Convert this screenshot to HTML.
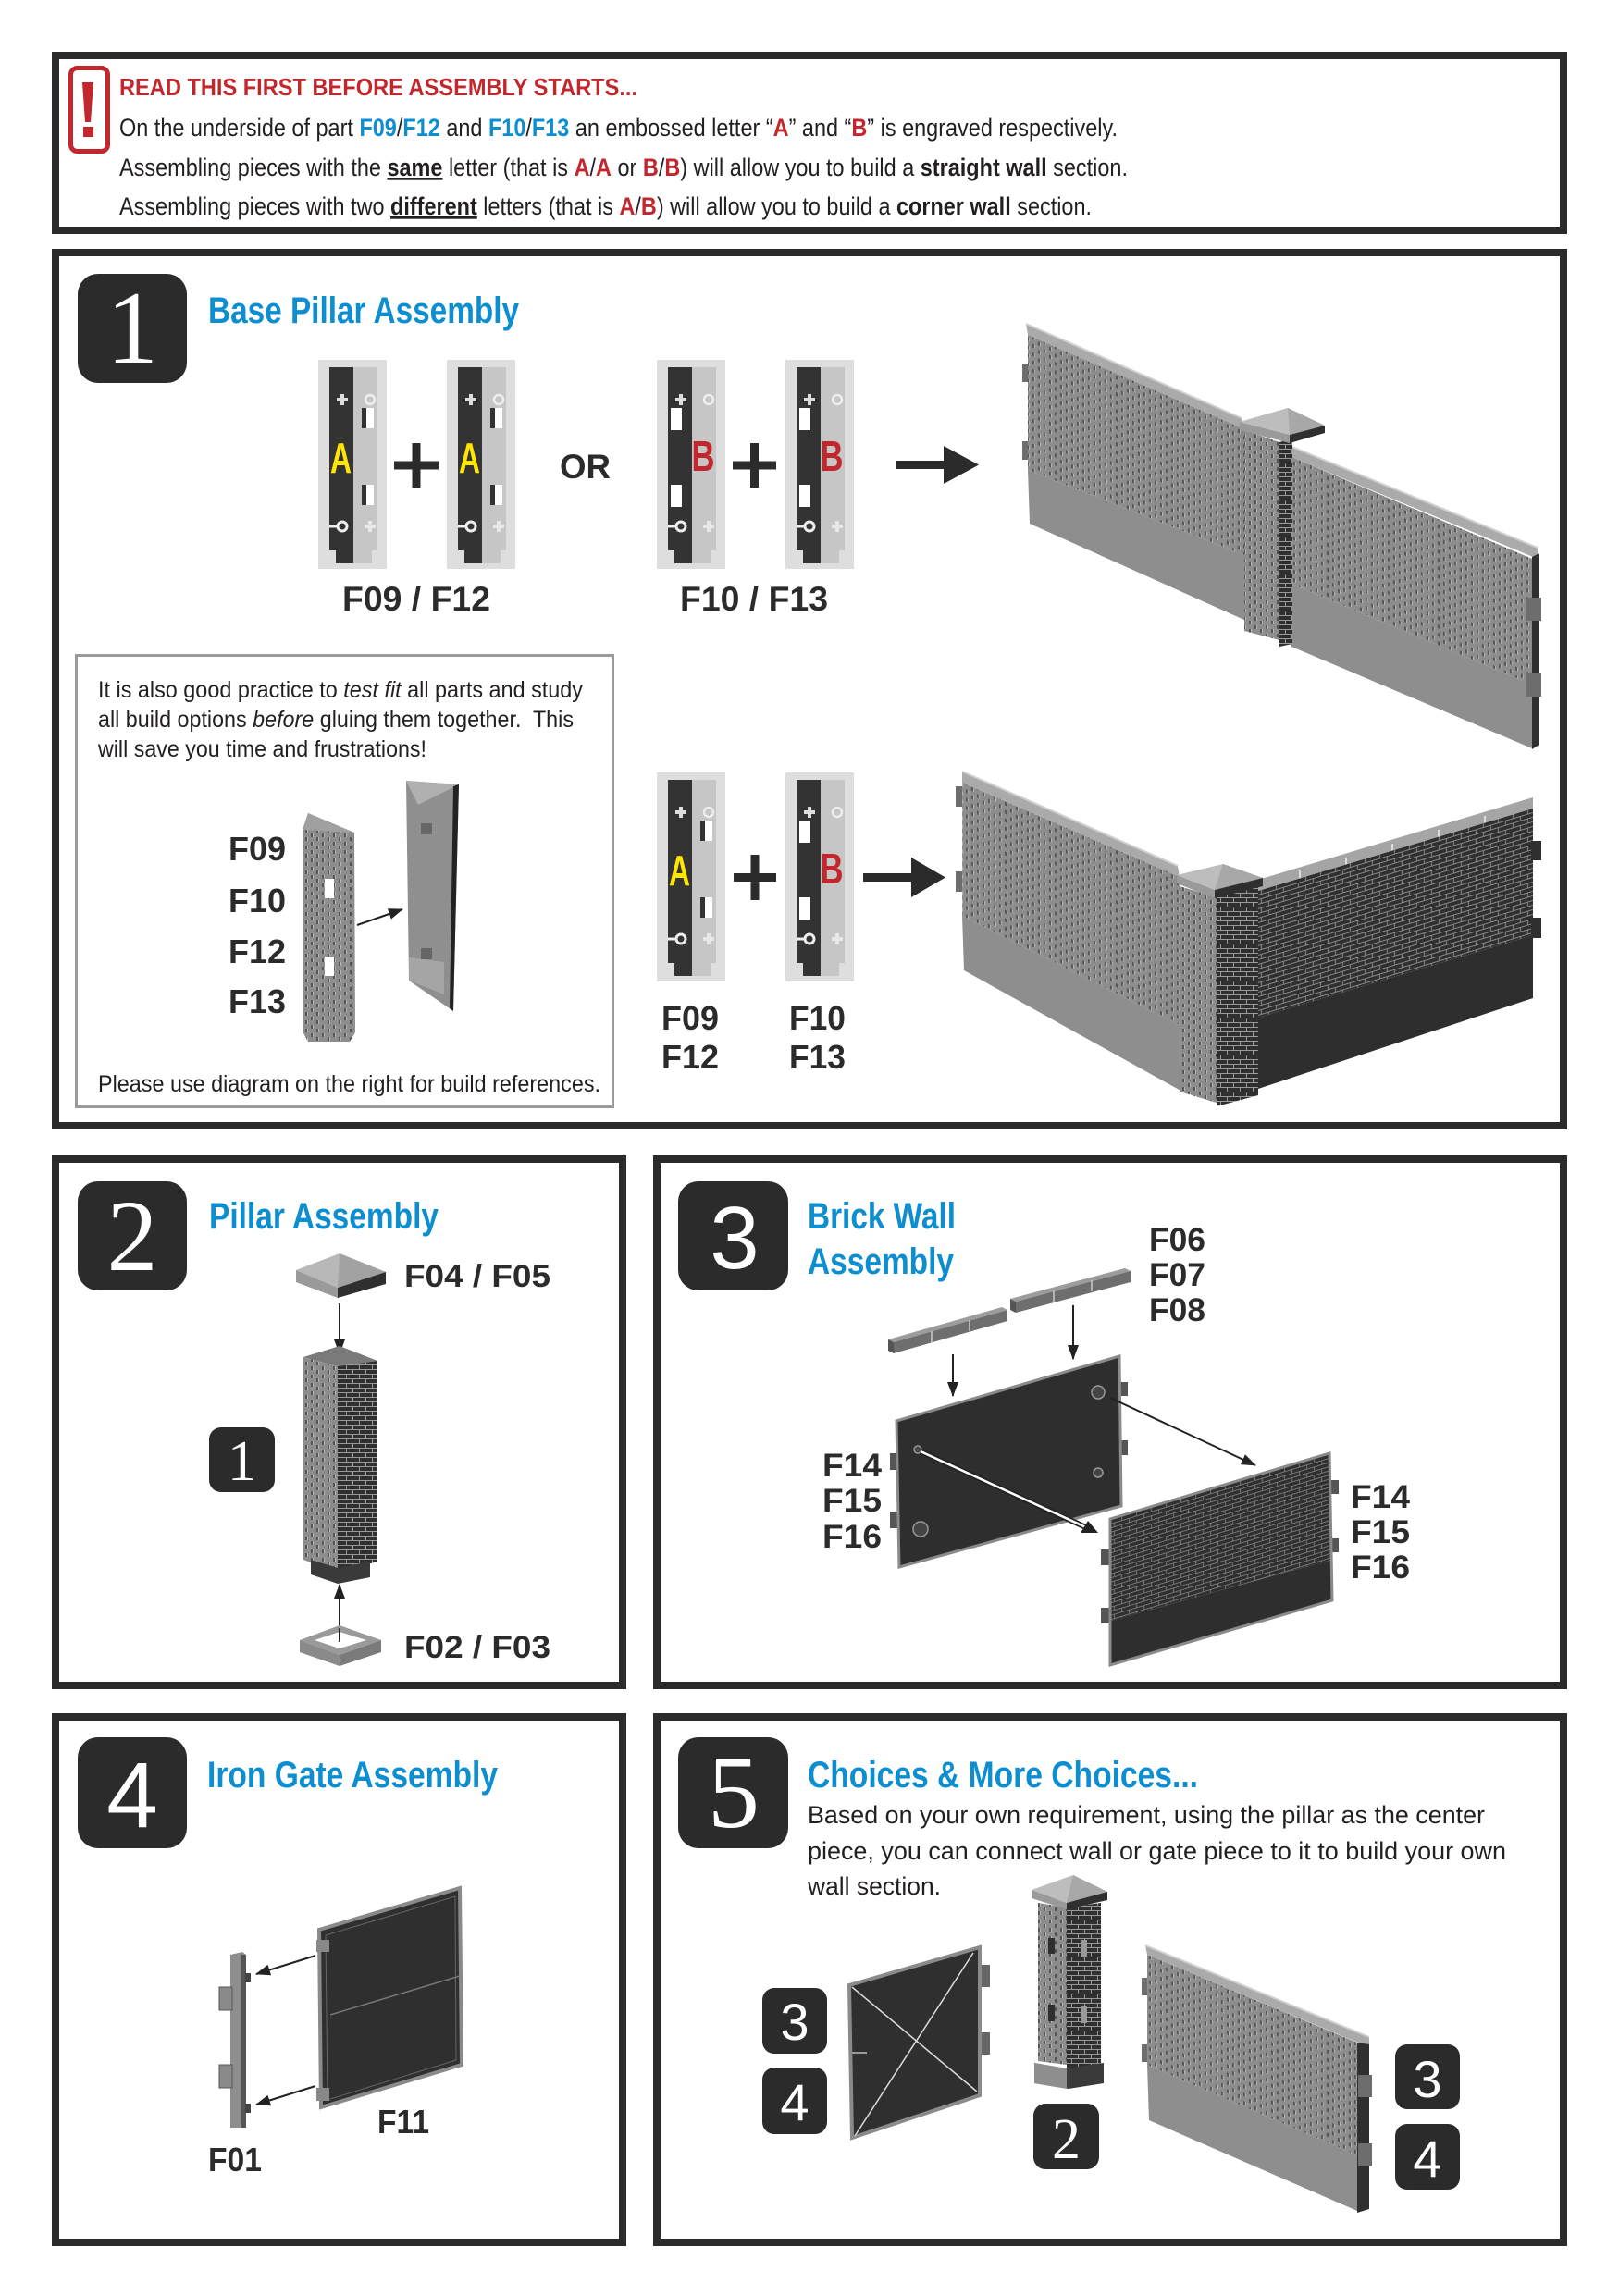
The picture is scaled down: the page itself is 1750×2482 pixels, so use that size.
<!DOCTYPE html>
<html><head><meta charset="utf-8"><style>
html,body{margin:0;padding:0;background:#fff;}
svg{display:block;}
text{font-family:"Liberation Sans Narrow","Liberation Sans",sans-serif;}
.ser{font-family:"Liberation Serif",serif;}
.san{font-family:"Liberation Sans",sans-serif;}
</style></head><body>
<svg xmlns="http://www.w3.org/2000/svg" width="1750" height="2482" viewBox="0 0 1750 2482">
<defs>
<pattern id="bL" width="12" height="9" patternUnits="userSpaceOnUse" patternTransform="skewY(23.6)">
<rect width="12" height="9" fill="#8d8d8d"/><rect x="0" y="1" width="2" height="4" fill="#555"/><rect x="2" y="1" width="1" height="4" fill="#b8b8b8"/><rect x="6" y="5" width="2" height="4" fill="#555"/><rect x="8" y="5" width="1" height="4" fill="#b8b8b8"/>
</pattern>
<pattern id="bL2" width="12" height="9" patternUnits="userSpaceOnUse">
<rect width="12" height="9" fill="#8d8d8d"/><rect x="0" y="1" width="2" height="4" fill="#555"/><rect x="2" y="1" width="1" height="4" fill="#b8b8b8"/><rect x="6" y="5" width="2" height="4" fill="#555"/><rect x="8" y="5" width="1" height="4" fill="#b8b8b8"/>
</pattern>
<pattern id="bD" width="16" height="10" patternUnits="userSpaceOnUse" patternTransform="skewY(-16.7)">
<rect width="16" height="10" fill="#2f2f2f"/><rect x="0" y="0" width="16" height="1" fill="#8a8a8a"/><rect x="0" y="5" width="16" height="1" fill="#8a8a8a"/><rect x="3" y="0" width="1" height="5" fill="#8a8a8a"/><rect x="11" y="5" width="1" height="5" fill="#8a8a8a"/>
</pattern>
<pattern id="bD2" width="14" height="10" patternUnits="userSpaceOnUse">
<rect width="14" height="10" fill="#2f2f2f"/><rect x="0" y="0" width="14" height="1" fill="#999"/><rect x="0" y="5" width="14" height="1" fill="#999"/><rect x="3" y="0" width="1" height="5" fill="#999"/><rect x="10" y="5" width="1" height="5" fill="#999"/>
</pattern>
<pattern id="bD3" width="16" height="9" patternUnits="userSpaceOnUse" patternTransform="skewY(-16.7)">
<rect width="16" height="9" fill="#2f2f2f"/><rect x="0" y="0" width="16" height="1" fill="#777"/><rect x="0" y="4.5" width="16" height="1" fill="#777"/><rect x="4" y="0" width="1" height="4.5" fill="#777"/><rect x="12" y="4.5" width="1" height="4.5" fill="#777"/>
</pattern>
<marker id="ah" viewBox="0 0 16 12" refX="15" refY="6" markerWidth="16" markerHeight="12" markerUnits="userSpaceOnUse" orient="auto"><path d="M0,0 L16,6 L0,12 z" fill="#222"/></marker>
<g id="pA">
<rect x="0" y="0" width="74" height="226" fill="#dedede"/>
<rect x="12" y="8" width="26" height="198" fill="#333"/>
<rect x="38" y="8" width="26" height="198" fill="#c6c6c6"/>
<rect x="19" y="206" width="19" height="14" fill="#333"/>
<rect x="38" y="206" width="20" height="14" fill="#c6c6c6"/>
<path d="M20,43h12M26,37v12" stroke="#ddd" stroke-width="4"/>
<circle cx="56" cy="43" r="5" fill="none" stroke="#eee" stroke-width="2.5"/>
<rect x="47" y="52" width="5" height="22" fill="#333"/><rect x="52" y="52" width="8" height="22" fill="#fff"/>
<rect x="47" y="135" width="5" height="22" fill="#333"/><rect x="52" y="135" width="8" height="22" fill="#fff"/>
<circle cx="26" cy="180" r="5" fill="none" stroke="#eee" stroke-width="3"/><line x1="12" y1="180" x2="21" y2="180" stroke="#eee" stroke-width="3"/>
<path d="M50,180h12M56,174v12" stroke="#e8e8e8" stroke-width="4"/>
<text x="24.5" y="122" text-anchor="middle" font-size="46" font-weight="bold" fill="#ffe600" textLength="23" lengthAdjust="spacingAndGlyphs">A</text>
</g>
<g id="pB">
<rect x="0" y="0" width="74" height="226" fill="#dedede"/>
<rect x="12" y="8" width="26" height="198" fill="#333"/>
<rect x="38" y="8" width="26" height="198" fill="#c6c6c6"/>
<rect x="19" y="206" width="19" height="14" fill="#333"/>
<rect x="38" y="206" width="20" height="14" fill="#c6c6c6"/>
<path d="M20,43h12M26,37v12" stroke="#ddd" stroke-width="4"/>
<circle cx="56" cy="43" r="5" fill="none" stroke="#eee" stroke-width="2.5"/>
<rect x="15" y="52" width="12" height="24" fill="#fff"/>
<rect x="15" y="135" width="12" height="24" fill="#fff"/>
<circle cx="26" cy="180" r="5" fill="none" stroke="#eee" stroke-width="3"/><line x1="12" y1="180" x2="21" y2="180" stroke="#eee" stroke-width="3"/>
<path d="M50,180h12M56,174v12" stroke="#e8e8e8" stroke-width="4"/>
<text x="50" y="120" text-anchor="middle" font-size="46" font-weight="bold" fill="#c1272d" textLength="25" lengthAdjust="spacingAndGlyphs">B</text>
</g>
</defs>

<!-- BOX 0 -->
<rect x="60" y="60" width="1630" height="189" fill="#fff" stroke="#2b2b2b" stroke-width="8"/>
<rect x="76.5" y="73.5" width="40" height="90" rx="7" fill="#fff" stroke="#c1272d" stroke-width="5"/>
<polygon points="89,89 101,89 98,132 92,132" fill="#c1272d"/>
<rect x="90" y="137" width="11" height="11" fill="#c1272d"/>
<text x="129" y="103" font-size="26" font-weight="bold" fill="#c1272d" textLength="560" lengthAdjust="spacingAndGlyphs">READ THIS FIRST BEFORE ASSEMBLY STARTS...</text>
<text x="129" y="147" font-size="27" fill="#231f20" textLength="1079" lengthAdjust="spacingAndGlyphs">On the underside of part <tspan fill="#0d8ed0" font-weight="bold">F09</tspan>/<tspan fill="#0d8ed0" font-weight="bold">F12</tspan> and <tspan fill="#0d8ed0" font-weight="bold">F10</tspan>/<tspan fill="#0d8ed0" font-weight="bold">F13</tspan> an embossed letter “<tspan fill="#c1272d" font-weight="bold">A</tspan>” and “<tspan fill="#c1272d" font-weight="bold">B</tspan>” is engraved respectively.</text>
<text x="129" y="190" font-size="27" fill="#231f20" textLength="1090" lengthAdjust="spacingAndGlyphs">Assembling pieces with the <tspan font-weight="bold" text-decoration="underline">same</tspan> letter (that is <tspan fill="#c1272d" font-weight="bold">A</tspan>/<tspan fill="#c1272d" font-weight="bold">A</tspan> or <tspan fill="#c1272d" font-weight="bold">B</tspan>/<tspan fill="#c1272d" font-weight="bold">B</tspan>) will allow you to build a <tspan font-weight="bold">straight wall</tspan> section.</text>
<text x="129" y="232" font-size="27" fill="#231f20" textLength="1051" lengthAdjust="spacingAndGlyphs">Assembling pieces with two <tspan font-weight="bold" text-decoration="underline">different</tspan> letters (that is <tspan fill="#c1272d" font-weight="bold">A</tspan>/<tspan fill="#c1272d" font-weight="bold">B</tspan>) will allow you to build a <tspan font-weight="bold">corner wall</tspan> section.</text>

<!-- BOX 1 -->
<rect x="60" y="273" width="1630" height="944" fill="#fff" stroke="#2b2b2b" stroke-width="8"/>
<rect x="84" y="296" width="118" height="118" rx="22" fill="#2b2b2b"/>
<text class="ser" x="143" y="392" text-anchor="middle" font-size="112" fill="#fff">1</text>
<text x="225" y="349" font-size="40" font-weight="bold" fill="#0d8ed0" textLength="336" lengthAdjust="spacingAndGlyphs">Base Pillar Assembly</text>

<use href="#pA" x="344" y="389"/>
<use href="#pA" x="483" y="389"/>
<use href="#pB" x="710" y="389"/>
<use href="#pB" x="849" y="389"/>
<path d="M426,503h48M450,479v48" stroke="#2b2b2b" stroke-width="9"/>
<path d="M792,503h47M815.5,479v48" stroke="#2b2b2b" stroke-width="9"/>
<text x="605" y="517" font-size="37" font-weight="bold" fill="#2b2b2b" textLength="55" lengthAdjust="spacingAndGlyphs">OR</text>
<rect x="968" y="498" width="57" height="9" fill="#2b2b2b"/>
<polygon points="1020,482 1058,502.5 1020,523" fill="#2b2b2b"/>
<text x="370" y="660" font-size="37" font-weight="bold" fill="#2b2b2b" textLength="160" lengthAdjust="spacingAndGlyphs">F09 / F12</text>
<text x="735" y="660" font-size="37" font-weight="bold" fill="#2b2b2b" textLength="160" lengthAdjust="spacingAndGlyphs">F10 / F13</text>

<!-- straight wall -->
<rect x="1105" y="393" width="7" height="20" fill="#6d6d6d"/>
<rect x="1105" y="477" width="7" height="20" fill="#6d6d6d"/>
<polygon points="1109,350 1342,452 1345,464 1111,362" fill="#aaaaaa"/>
<line x1="1109" y1="350" x2="1342" y2="452" stroke="#d0d0d0" stroke-width="2"/>
<polygon points="1111,362 1345,464 1345,600 1111,508" fill="url(#bL)"/>
<polygon points="1111,508 1345,600 1347,671 1113,566" fill="#8e8e8e"/>
<polygon points="1394,482 1662,592 1662,604 1396,494" fill="#aaaaaa"/>
<line x1="1394" y1="482" x2="1662" y2="592" stroke="#d0d0d0" stroke-width="2"/>
<polygon points="1396,494 1656,604 1656,740 1396,631" fill="url(#bL)"/>
<polygon points="1396,631 1656,740 1656,809 1396,699" fill="#8e8e8e"/>
<polygon points="1656,602 1664,598 1664,805 1656,810" fill="#2f2f2f"/>
<rect x="1649" y="646" width="17" height="25" fill="#6d6d6d"/>
<rect x="1649" y="728" width="17" height="25" fill="#6d6d6d"/>
<polygon points="1345,465 1383,478 1383,692 1345,682" fill="url(#bL2)"/>
<polygon points="1383,478 1397,474 1397,696 1383,699" fill="url(#bD2)"/>
<polygon points="1340,456 1392,441 1432,460 1394,470" fill="#bdbdbd"/>
<polygon points="1392,441 1432,460 1394,470" fill="#a8a8a8"/>
<polygon points="1340,456 1394,470 1394,479 1340,465" fill="#9a9a9a"/>
<polygon points="1394,470 1432,460 1432,468 1394,479" fill="#2f2f2f"/>

<!-- corner wall -->
<rect x="1033" y="850" width="8" height="22" fill="#6d6d6d"/>
<rect x="1033" y="942" width="8" height="22" fill="#6d6d6d"/>
<polygon points="1040,834 1273,936 1275,948 1040,846" fill="#aaaaaa"/>
<line x1="1040" y1="834" x2="1273" y2="936" stroke="#d0d0d0" stroke-width="2"/>
<polygon points="1040,846 1275,948 1275,1108 1040,990" fill="url(#bL)"/>
<polygon points="1040,990 1275,1108 1278,1180 1042,1049" fill="#8e8e8e"/>
<polygon points="1360,951 1657,862 1657,874 1360,963" fill="#a5a5a5"/>
<path d="M1405,951v-10M1455,937v-10M1505,922v-10M1555,907v-10M1605,892v-10" stroke="#ddd" stroke-width="2"/>
<polygon points="1360,963 1657,874 1657,1011 1360,1100" fill="url(#bD)"/>
<polygon points="1360,1100 1657,1011 1657,1079 1360,1177" fill="#2e2e2e"/>
<rect x="1655" y="909" width="11" height="21" fill="#2f2f2f"/>
<rect x="1655" y="992" width="11" height="22" fill="#2f2f2f"/>
<polygon points="1275,958 1315,970 1315,1192 1275,1180" fill="url(#bL2)"/>
<polygon points="1315,970 1360,958 1360,1184 1315,1196" fill="url(#bD2)"/>
<polygon points="1272,946 1322,934 1365,949 1313,962" fill="#bdbdbd"/>
<polygon points="1322,934 1365,949 1313,962" fill="#a8a8a8"/>
<polygon points="1272,946 1313,962 1313,971 1272,955" fill="#9a9a9a"/>
<polygon points="1313,962 1365,949 1365,958 1313,971" fill="#2f2f2f"/>

<!-- second row pieces -->
<use href="#pA" x="710" y="835"/>
<use href="#pB" x="849" y="835"/>
<path d="M793,948.5h46M816,924v49" stroke="#2b2b2b" stroke-width="9"/>
<rect x="933" y="944" width="55" height="9" fill="#2b2b2b"/>
<polygon points="985,927 1022,948.5 985,970" fill="#2b2b2b"/>
<text x="715" y="1113" font-size="36" font-weight="bold" fill="#2b2b2b" textLength="62" lengthAdjust="spacingAndGlyphs">F09</text>
<text x="715" y="1155" font-size="36" font-weight="bold" fill="#2b2b2b" textLength="62" lengthAdjust="spacingAndGlyphs">F12</text>
<text x="853" y="1113" font-size="36" font-weight="bold" fill="#2b2b2b" textLength="61" lengthAdjust="spacingAndGlyphs">F10</text>
<text x="853" y="1155" font-size="36" font-weight="bold" fill="#2b2b2b" textLength="61" lengthAdjust="spacingAndGlyphs">F13</text>

<!-- info box -->
<rect x="82.5" y="708.5" width="580" height="488" fill="#fff" stroke="#9a9a9a" stroke-width="3"/>
<text x="106" y="754" font-size="25" fill="#231f20" textLength="524" lengthAdjust="spacingAndGlyphs">It is also good practice to <tspan font-style="italic">test fit</tspan> all parts and study</text>
<text x="106" y="786" font-size="25" fill="#231f20" textLength="514" lengthAdjust="spacingAndGlyphs" xml:space="preserve">all build options <tspan font-style="italic">before</tspan> gluing them together.  This</text>
<text x="106" y="818" font-size="25" fill="#231f20" textLength="355" lengthAdjust="spacingAndGlyphs">will save you time and frustrations!</text>
<text x="106" y="1180" font-size="25" fill="#231f20" textLength="543" lengthAdjust="spacingAndGlyphs">Please use diagram on the right for build references.</text>
<text x="247" y="930" font-size="36" font-weight="bold" fill="#2b2b2b" textLength="62" lengthAdjust="spacingAndGlyphs">F09</text>
<text x="247" y="986" font-size="36" font-weight="bold" fill="#2b2b2b" textLength="62" lengthAdjust="spacingAndGlyphs">F10</text>
<text x="247" y="1041" font-size="36" font-weight="bold" fill="#2b2b2b" textLength="62" lengthAdjust="spacingAndGlyphs">F12</text>
<text x="247" y="1095" font-size="36" font-weight="bold" fill="#2b2b2b" textLength="62" lengthAdjust="spacingAndGlyphs">F13</text>
<polygon points="327,897 333,879 383,900 384,1116 378,1126 333,1126 327,1115" fill="url(#bL2)"/>
<polygon points="333,879 383,900 327,897" fill="#a0a0a0"/>
<rect x="351" y="950" width="10" height="21" fill="#fff"/>
<rect x="351" y="1034" width="10" height="21" fill="#fff"/>
<polygon points="439,844 496,848 490,1093 442,1060" fill="#8f8f8f"/>
<polygon points="439,844 496,848 452,870" fill="#b0b0b0"/>
<polygon points="490,850 496,848 490,1093 486,1090" fill="#222"/>
<polygon points="442,1035 480,1040 480,1075 442,1060" fill="#a5a5a5"/>
<rect x="455" y="890" width="12" height="12" fill="#666"/>
<rect x="455" y="1025" width="12" height="12" fill="#666"/>
<line x1="386" y1="1000" x2="435" y2="983" stroke="#222" stroke-width="2" marker-end="url(#ah)"/>

<!-- BOX 2 -->
<rect x="60" y="1253" width="613" height="569" fill="#fff" stroke="#2b2b2b" stroke-width="8"/>
<rect x="84" y="1277" width="118" height="118" rx="22" fill="#2b2b2b"/>
<text class="ser" x="143" y="1373" text-anchor="middle" font-size="110" fill="#fff">2</text>
<text x="226" y="1328" font-size="40" font-weight="bold" fill="#0d8ed0" textLength="248" lengthAdjust="spacingAndGlyphs">Pillar Assembly</text>
<polygon points="320,1373 367,1355 417,1375 365,1392" fill="#b8b8b8"/>
<polygon points="367,1355 417,1375 365,1392" fill="#a2a2a2"/>
<polygon points="320,1373 365,1392 365,1403 320,1386" fill="#9a9a9a"/>
<polygon points="365,1392 417,1375 417,1388 365,1403" fill="#2f2f2f"/>
<text x="437" y="1391" font-size="34" font-weight="bold" fill="#2b2b2b" textLength="158" lengthAdjust="spacingAndGlyphs">F04 / F05</text>
<line x1="367" y1="1409" x2="367" y2="1463" stroke="#222" stroke-width="2" marker-end="url(#ah)"/>
<polygon points="328,1467 367,1455 408,1471 365,1477" fill="#7a7a7a"/>
<polygon points="328,1467 365,1477 365,1700 328,1686" fill="url(#bL2)"/>
<polygon points="365,1477 408,1471 408,1688 365,1700" fill="url(#bD2)"/>
<polygon points="336,1686 365,1695 400,1688 400,1705 365,1712 336,1702" fill="#3a3a3a"/>
<rect x="226" y="1543" width="71" height="70" rx="13" fill="#2b2b2b"/>
<text class="ser" x="261.5" y="1600" text-anchor="middle" font-size="62" fill="#fff">1</text>
<line x1="367" y1="1775" x2="367" y2="1713" stroke="#222" stroke-width="2" marker-end="url(#ah)"/>
<polygon points="324,1773 367,1757 412,1773 367,1789" fill="#9a9a9a"/>
<polygon points="340,1773 367,1764 396,1773 367,1782" fill="#fff"/>
<polygon points="324,1773 367,1789 367,1801 324,1786" fill="#8a8a8a"/>
<polygon points="367,1789 412,1773 412,1786 367,1801" fill="#7a7a7a"/>
<line x1="367" y1="1775" x2="367" y2="1760" stroke="#222" stroke-width="2"/>
<text x="437" y="1792" font-size="34" font-weight="bold" fill="#2b2b2b" textLength="158" lengthAdjust="spacingAndGlyphs">F02 / F03</text>

<!-- BOX 3 -->
<rect x="710" y="1253" width="980" height="569" fill="#fff" stroke="#2b2b2b" stroke-width="8"/>
<rect x="733" y="1277" width="119" height="118" rx="22" fill="#2b2b2b"/>
<text class="san" x="794" y="1371" text-anchor="middle" font-size="96" fill="#fff">3</text>
<text x="873" y="1328" font-size="40" font-weight="bold" fill="#0d8ed0" textLength="160" lengthAdjust="spacingAndGlyphs">Brick Wall</text>
<text x="873" y="1377" font-size="40" font-weight="bold" fill="#0d8ed0" textLength="158" lengthAdjust="spacingAndGlyphs">Assembly</text>
<text x="1242" y="1352" font-size="35" font-weight="bold" fill="#2b2b2b" textLength="61" lengthAdjust="spacingAndGlyphs">F06</text>
<text x="1242" y="1390" font-size="35" font-weight="bold" fill="#2b2b2b" textLength="61" lengthAdjust="spacingAndGlyphs">F07</text>
<text x="1242" y="1428" font-size="35" font-weight="bold" fill="#2b2b2b" textLength="61" lengthAdjust="spacingAndGlyphs">F08</text>
<!-- strip 1 -->
<polygon points="960,1448 1083,1413 1089,1416 966,1451" fill="#9c9c9c"/>
<polygon points="966,1451 1089,1416 1089,1428 966,1463" fill="#6e6e6e"/>
<polygon points="960,1448 966,1451 966,1463 960,1460" fill="#555"/>
<path d="M1007,1439v12M1048,1427v12" stroke="#ccc" stroke-width="1.5"/>
<!-- strip 2 -->
<polygon points="1092,1404 1216,1371 1222,1374 1098,1407" fill="#9c9c9c"/>
<polygon points="1098,1407 1222,1374 1222,1386 1098,1419" fill="#6e6e6e"/>
<polygon points="1092,1404 1098,1407 1098,1419 1092,1416" fill="#555"/>
<path d="M1139,1395v12M1180,1384v12" stroke="#ccc" stroke-width="1.5"/>
<line x1="1030" y1="1464" x2="1030" y2="1509" stroke="#222" stroke-width="2" marker-end="url(#ah)"/>
<line x1="1160" y1="1411" x2="1160" y2="1469" stroke="#222" stroke-width="2" marker-end="url(#ah)"/>
<rect x="962" y="1571" width="8" height="18" fill="#555"/>
<rect x="962" y="1634" width="8" height="18" fill="#555"/>
<rect x="1209" y="1494" width="10" height="15" fill="#555"/>
<rect x="1209" y="1557" width="10" height="16" fill="#555"/>
<polygon points="969,1536 1210,1466 1212,1628 972,1694" fill="#2e2e2e" stroke="#8a8a8a" stroke-width="3"/>
<circle cx="1187" cy="1505" r="7" fill="#444" stroke="#999" stroke-width="1.5"/>
<circle cx="992" cy="1567" r="4" fill="#444" stroke="#999" stroke-width="1.5"/>
<circle cx="1187" cy="1592" r="5" fill="#444" stroke="#999" stroke-width="1.5"/>
<circle cx="995" cy="1653" r="8" fill="#444" stroke="#999" stroke-width="1.5"/>
<rect x="1190" y="1675" width="10" height="17" fill="#555"/>
<rect x="1190" y="1738" width="10" height="17" fill="#555"/>
<rect x="1436" y="1600" width="11" height="15" fill="#555"/>
<rect x="1436" y="1663" width="11" height="15" fill="#555"/>
<polygon points="1200,1642 1437,1571 1440,1686 1200,1752" fill="url(#bD3)"/>
<polygon points="1200,1752 1440,1686 1440,1730 1200,1800" fill="#2e2e2e"/>
<polygon points="1200,1642 1437,1571 1440,1730 1200,1800" fill="none" stroke="#8a8a8a" stroke-width="3"/>
<line x1="1200" y1="1511" x2="1357" y2="1584" stroke="#222" stroke-width="2" marker-end="url(#ah)"/>
<line x1="995" y1="1569" x2="1178" y2="1653" stroke="#222" stroke-width="6"/>
<line x1="995" y1="1569" x2="1178" y2="1653" stroke="#fff" stroke-width="2.5"/>
<polygon points="1187,1657 1168,1657 1176,1644" fill="#222"/>
<text x="889" y="1596" font-size="35" font-weight="bold" fill="#2b2b2b" textLength="64" lengthAdjust="spacingAndGlyphs">F14</text>
<text x="889" y="1634" font-size="35" font-weight="bold" fill="#2b2b2b" textLength="64" lengthAdjust="spacingAndGlyphs">F15</text>
<text x="889" y="1673" font-size="35" font-weight="bold" fill="#2b2b2b" textLength="64" lengthAdjust="spacingAndGlyphs">F16</text>
<text x="1460" y="1630" font-size="35" font-weight="bold" fill="#2b2b2b" textLength="64" lengthAdjust="spacingAndGlyphs">F14</text>
<text x="1460" y="1668" font-size="35" font-weight="bold" fill="#2b2b2b" textLength="64" lengthAdjust="spacingAndGlyphs">F15</text>
<text x="1460" y="1706" font-size="35" font-weight="bold" fill="#2b2b2b" textLength="64" lengthAdjust="spacingAndGlyphs">F16</text>

<!-- BOX 4 -->
<rect x="60" y="1856" width="613" height="568" fill="#fff" stroke="#2b2b2b" stroke-width="8"/>
<rect x="84" y="1878" width="118" height="120" rx="22" fill="#2b2b2b"/>
<text class="san" x="143" y="1975" text-anchor="middle" font-size="100" fill="#fff">4</text>
<text x="224" y="1932" font-size="40" font-weight="bold" fill="#0d8ed0" textLength="314" lengthAdjust="spacingAndGlyphs">Iron Gate Assembly</text>
<polygon points="345,2086 497,2041 499,2232 347,2278" fill="#2f2f2f" stroke="#8a8a8a" stroke-width="4"/>
<polygon points="352,2092 492,2050 493,2227 354,2270" fill="none" stroke="#666" stroke-width="1"/>
<line x1="357" y1="2178" x2="497" y2="2136" stroke="#777" stroke-width="1.5"/>
<rect x="342" y="2097" width="14" height="13" fill="#888"/>
<rect x="342" y="2257" width="14" height="14" fill="#888"/>
<polygon points="249,2113 262,2110 266,2113 266,2300 249,2300" fill="#8e8e8e"/>
<rect x="261" y="2113" width="5" height="187" fill="#555"/>
<rect x="237" y="2148" width="14" height="25" fill="#8a8a8a" stroke="#555" stroke-width="1"/>
<rect x="237" y="2232" width="14" height="25" fill="#8a8a8a" stroke="#555" stroke-width="1"/>
<rect x="265" y="2133" width="6" height="10" fill="#444"/>
<rect x="265" y="2274" width="6" height="10" fill="#444"/>
<line x1="341" y1="2114" x2="277" y2="2134" stroke="#222" stroke-width="2" marker-end="url(#ah)"/>
<line x1="341" y1="2255" x2="277" y2="2275" stroke="#222" stroke-width="2" marker-end="url(#ah)"/>
<text x="408" y="2306" font-size="36" font-weight="bold" fill="#2b2b2b" textLength="56" lengthAdjust="spacingAndGlyphs">F11</text>
<text x="225" y="2347" font-size="36" font-weight="bold" fill="#2b2b2b" textLength="58" lengthAdjust="spacingAndGlyphs">F01</text>

<!-- BOX 5 -->
<rect x="710" y="1856" width="980" height="568" fill="#fff" stroke="#2b2b2b" stroke-width="8"/>
<rect x="733" y="1878" width="119" height="120" rx="22" fill="#2b2b2b"/>
<text class="ser" x="793" y="1975" text-anchor="middle" font-size="112" fill="#fff">5</text>
<text x="873" y="1932" font-size="40" font-weight="bold" fill="#0d8ed0" textLength="422" lengthAdjust="spacingAndGlyphs">Choices &amp; More Choices...</text>
<text x="873" y="1971" font-size="27" fill="#231f20" textLength="732" lengthAdjust="spacingAndGlyphs">Based on your own requirement, using the pillar as the center</text>
<text x="873" y="2010" font-size="27" fill="#231f20" textLength="755" lengthAdjust="spacingAndGlyphs">piece, you can connect wall or gate piece to it to build your own</text>
<text x="873" y="2048" font-size="27" fill="#231f20" textLength="144" lengthAdjust="spacingAndGlyphs">wall section.</text>
<!-- gate -->
<rect x="1057" y="2124" width="13" height="24" fill="#666"/>
<rect x="1057" y="2197" width="13" height="24" fill="#666"/>
<polygon points="918,2146 1059,2105 1059,2265 921,2311" fill="#2f2f2f" stroke="#8a8a8a" stroke-width="4"/>
<line x1="921" y1="2148" x2="1056" y2="2261" stroke="#ddd" stroke-width="1.5"/>
<line x1="1052" y1="2111" x2="924" y2="2309" stroke="#ddd" stroke-width="1.5"/>
<line x1="921" y1="2219" x2="937" y2="2219" stroke="#999" stroke-width="2"/>
<!-- pillar -->
<polygon points="1122,2057 1153,2062 1153,2232 1122,2228" fill="url(#bL2)"/>
<polygon points="1153,2062 1190,2057 1190,2232 1153,2236" fill="url(#bD2)"/>
<rect x="1133" y="2095" width="7" height="17" fill="#2f2f2f"/>
<rect x="1133" y="2167" width="7" height="18" fill="#2f2f2f"/>
<rect x="1168" y="2097" width="7" height="18" fill="#999"/>
<rect x="1168" y="2168" width="7" height="19" fill="#999"/>
<polygon points="1118,2230 1153,2236 1193,2230 1193,2252 1155,2258 1118,2252" fill="#3a3a3a"/>
<polygon points="1118,2230 1153,2236 1153,2258 1118,2252" fill="#8e8e8e"/>
<polygon points="1115,2043 1160,2027 1197,2045 1153,2057" fill="#bdbdbd"/>
<polygon points="1160,2027 1197,2045 1153,2057" fill="#a8a8a8"/>
<polygon points="1115,2043 1153,2057 1153,2064 1115,2052" fill="#9a9a9a"/>
<polygon points="1153,2057 1197,2045 1197,2054 1153,2064" fill="#2f2f2f"/>
<!-- wall -->
<rect x="1234" y="2138" width="8" height="19" fill="#6d6d6d"/>
<rect x="1234" y="2210" width="8" height="19" fill="#6d6d6d"/>
<polygon points="1238,2103 1480,2202 1480,2213 1240,2113" fill="#aaaaaa"/>
<line x1="1238" y1="2103" x2="1480" y2="2202" stroke="#d0d0d0" stroke-width="2"/>
<polygon points="1240,2113 1467,2208 1467,2330 1240,2232" fill="url(#bL)"/>
<polygon points="1240,2232 1467,2330 1467,2390 1242,2292" fill="#8e8e8e"/>
<polygon points="1467,2208 1480,2210 1480,2388 1467,2392" fill="#2f2f2f"/>
<rect x="1468" y="2243" width="15" height="24" fill="#6d6d6d"/>
<rect x="1468" y="2317" width="15" height="25" fill="#6d6d6d"/>
<!-- badges -->
<rect x="824" y="2149" width="70" height="71" rx="13" fill="#2b2b2b"/>
<text class="san" x="859" y="2205" text-anchor="middle" font-size="56" fill="#fff">3</text>
<rect x="824" y="2235" width="70" height="72" rx="13" fill="#2b2b2b"/>
<text class="san" x="859" y="2292" text-anchor="middle" font-size="56" fill="#fff">4</text>
<rect x="1117" y="2274" width="71" height="71" rx="13" fill="#2b2b2b"/>
<text class="ser" x="1152.5" y="2333" text-anchor="middle" font-size="62" fill="#fff">2</text>
<rect x="1508" y="2210" width="70" height="70" rx="13" fill="#2b2b2b"/>
<text class="san" x="1543" y="2267" text-anchor="middle" font-size="56" fill="#fff">3</text>
<rect x="1508" y="2296" width="70" height="71" rx="13" fill="#2b2b2b"/>
<text class="san" x="1543" y="2353" text-anchor="middle" font-size="56" fill="#fff">4</text>
</svg>
</body></html>
